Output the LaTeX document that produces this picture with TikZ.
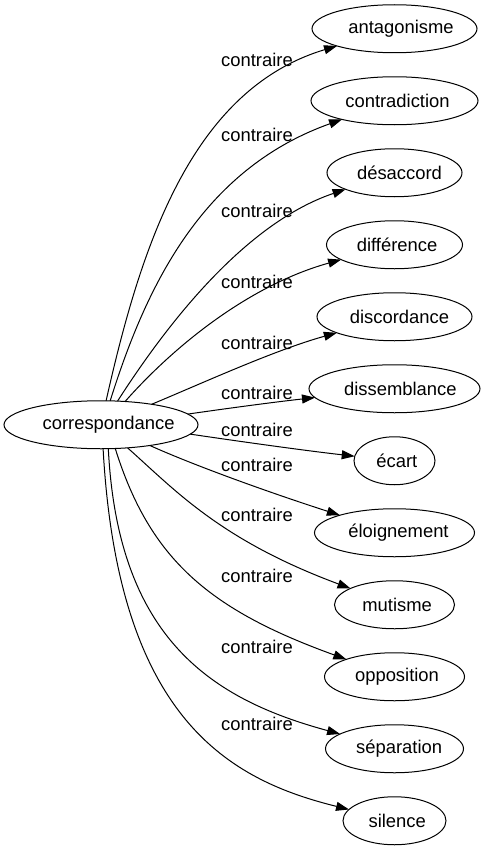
\documentclass[tikz,border=0pt]{standalone}
\usepackage{fontspec}
\setmainfont{Liberation Sans}
\usetikzlibrary{shapes.geometric,arrows.meta}
\newcommand{\shiftword}[2]{\kern#1pt #2\kern-#1pt}
\begin{document}
\begin{tikzpicture}[x=1pt,y=-1pt,
  word/.style={draw, ellipse, line width=1pt, inner sep=0pt, outer sep=0pt,
    minimum height=48pt, font=\fontsize{18.4}{22}\selectfont},
  lbl/.style={inner sep=0pt, font=\fontsize{18.4}{22}\selectfont},
  link/.style={line width=1pt, -{Triangle[length=13pt,width=9pt]}}]
\useasboundingbox (0,0) rectangle (484,851);
\node[word, minimum width=194pt] (c) at (101,424.75) {\shiftword{7.6}{correspondance}};
\node[word, minimum width=165pt] (n1) at (394.5,28.75) {\shiftword{6.5}{antagonisme}};
\node[word, minimum width=167pt] (n2) at (394.5,100.75) {\shiftword{3}{contradiction}};
\node[word, minimum width=135pt] (n3) at (394.5,172.75) {\shiftword{5}{désaccord}};
\node[word, minimum width=136pt] (n4) at (394.5,244.75) {\shiftword{2.6}{différence}};
\node[word, minimum width=155pt] (n5) at (394.5,316.75) {\shiftword{5}{discordance}};
\node[word, minimum width=171pt] (n6) at (394.5,388.75) {\shiftword{5.9}{dissemblance}};
\node[word, minimum width=81pt] (n7) at (394.5,460.75) {\shiftword{2.3}{écart}};
\node[word, minimum width=160pt] (n8) at (394.5,532.75) {\shiftword{4}{éloignement}};
\node[word, minimum width=120pt] (n9) at (394.5,604.75) {\shiftword{2.6}{mutisme}};
\node[word, minimum width=140pt] (n10) at (394.5,676.75) {\shiftword{2.5}{opposition}};
\node[word, minimum width=138pt] (n11) at (394.5,748.75) {\shiftword{4.6}{séparation}};
\node[word, minimum width=103pt] (n12) at (394.5,820.75) {\shiftword{2.7}{silence}};
\node[lbl] (l1) at (257,60) {contraire};
\node[lbl] (l2) at (257,135) {contraire};
\node[lbl] (l3) at (257,211) {contraire};
\node[lbl] (l4) at (257,282) {contraire};
\node[lbl] (l5) at (257,343) {contraire};
\node[lbl] (l6) at (257,393) {contraire};
\node[lbl] (l7) at (257,430) {contraire};
\node[lbl] (l8) at (257,465) {contraire};
\node[lbl] (l9) at (257,515) {contraire};
\node[lbl] (l10) at (257,576) {contraire};
\node[lbl] (l11) at (257,647) {contraire};
\node[lbl] (l12) at (257,724) {contraire};
\draw[link] (c.78.1) .. controls (140,250) and (190,90) .. (n1);
\draw[link] (c.69.25) .. controls (145,290) and (200,170) .. (n2);
\draw[link] (c.55.7) .. controls (160,335) and (240,225) .. (n3);
\draw[link] (c.44.1) .. controls (175,345) and (250,285) .. (n4);
\draw[link] (c.22.3) .. controls (205,382) and (275,350) .. (n5);
\draw[link] (c.7.4) .. controls (230,408) and (275,402) .. (n6);
\draw[link] (c.-6.75) .. controls (230,440) and (300,450) .. (n7);
\draw[link] (c.-23.5) .. controls (200,468) and (280,496) .. (n8);
\draw[link] (c.-41.7) .. controls (175,490) and (220,540) .. (n9);
\draw[link] (c.-59.5) .. controls (150,560) and (210,610) .. (n10);
\draw[link] (c.-73.7) .. controls (118,640) and (213,699.5) .. (n11);
\draw[link] (c.-85.2) .. controls (118,720) and (230,780) .. (n12);
\end{tikzpicture}
\end{document}
